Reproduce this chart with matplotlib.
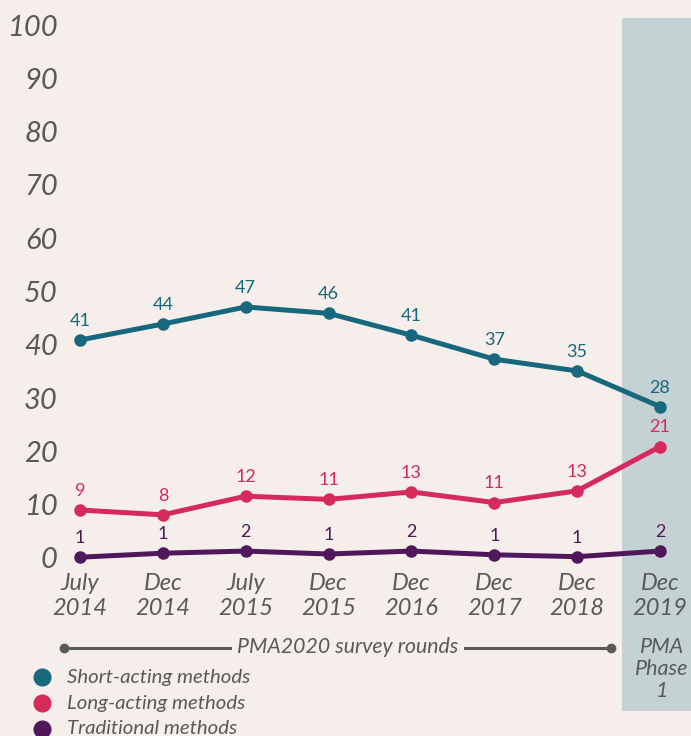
import matplotlib.pyplot as plt
from matplotlib.patches import Rectangle

# data
rounds = ['July\n2014', 'Dec\n2014', 'July\n2015', 'Dec\n2015',
          'Dec\n2016', 'Dec\n2017', 'Dec\n2018', 'Dec\n2019']
# plotted positions and the rounded labels shown
short_acting = [40.9, 43.9, 47.1, 45.9, 41.8, 37.3, 35.1, 28.4]
long_acting = [9.0, 8.1, 11.6, 11.0, 12.4, 10.4, 12.6, 20.9]
traditional = [0.15, 0.9, 1.3, 0.75, 1.3, 0.6, 0.25, 1.3]
short_labels = [41, 44, 47, 46, 41, 37, 35, 28]
long_labels = [9, 8, 12, 11, 13, 11, 13, 21]
trad_labels = [1, 1, 2, 1, 2, 1, 1, 2]

series_names = ['Short-acting methods', 'Long-acting methods', 'Traditional methods']
colors = ['#17687d', '#d62a5c', '#50185a']

BG = '#f5eeeb'
SHADE = '#c5d2d4'
GREY = '#595959'
FONT = 'Lato'

W, H = 691, 736
fig = plt.figure(figsize=(W / 100, H / 100), dpi=100, facecolor=BG)


def fx(px):
        return px / W


def fy(py):
        return 1 - py / H


# axes: left edge at 62px, top at 0px, bottom at 565px
ax = fig.add_axes([fx(62), fy(565), fx(W - 62), fy(0) - fy(565)])
ax.set_facecolor(BG)
x = list(range(len(rounds)))
step = 82.86
ax.set_xlim((62 - 80) / step, (W - 80) / step)
ax.set_ylim((558 - 565) / 5.33, 558 / 5.33)

# shaded PMA Phase 1 column
ax.add_patch(Rectangle(((622 - 80) / step, (558 - 711) / 5.33),
                       (W - 622) / step + 1, (711 - 18) / 5.33,
                       facecolor=SHADE, edgecolor='none', clip_on=False, zorder=0))

for vals, labels, c in zip([short_acting, long_acting, traditional],
                           [short_labels, long_labels, trad_labels], colors):
        ax.plot(x, vals, color=c, lw=3.6, marker='o', markersize=8, zorder=3,
                solid_capstyle='round')
        for xi, v, lab in zip(x, vals, labels):
                ax.annotate(str(lab), (xi, v), xytext=(0, 8), textcoords='offset points',
                            ha='center', va='bottom', color=c, fontsize=13,
                            fontfamily=FONT)

for s in ax.spines.values():
        s.set_visible(False)

ax.set_yticks(range(0, 101, 10))
ax.set_yticklabels([str(v) for v in range(0, 101, 10)], fontsize=21,
                   fontstyle='italic', fontfamily=FONT, color=GREY)
ax.set_xticks(x)
ax.set_xticklabels(rounds, fontsize=17, fontstyle='italic', fontfamily=FONT,
                   color=GREY, linespacing=1.2)
ax.tick_params(length=0)
ax.tick_params(axis='y', pad=3)
ax.tick_params(axis='x', pad=6)

# survey rounds bracket
ax.plot([fx(64), fx(611)], [fy(648), fy(648)], color=GREY, lw=2.2,
        transform=fig.transFigure, clip_on=False)
ax.plot([fx(64), fx(611)], [fy(648), fy(648)], 'o', color=GREY, markersize=6,
        transform=fig.transFigure, clip_on=False)
fig.text(fx(348), fy(647), 'PMA2020 survey rounds', ha='center', va='center',
         fontsize=15.3, fontstyle='italic', fontfamily=FONT, color=GREY,
         bbox=dict(facecolor=BG, edgecolor='none', pad=4))
fig.text(fx(662), fy(669), 'PMA\nPhase\n1', ha='center', va='center',
         fontsize=15.5, fontstyle='italic', fontfamily=FONT, color=GREY,
         linespacing=1.15)

# legend
for i, (name, c) in enumerate(zip(series_names, colors)):
        yy = 677 + 26 * i
        ax.plot([fx(42)], [fy(yy)], 'o', color=c, markersize=12,
                transform=fig.transFigure, clip_on=False)
        fig.text(fx(67), fy(yy), name, ha='left', va='center', fontsize=14.7,
                 fontstyle='italic', fontfamily=FONT, color=GREY)

fig.savefig('out.png', dpi=100, facecolor=BG)
